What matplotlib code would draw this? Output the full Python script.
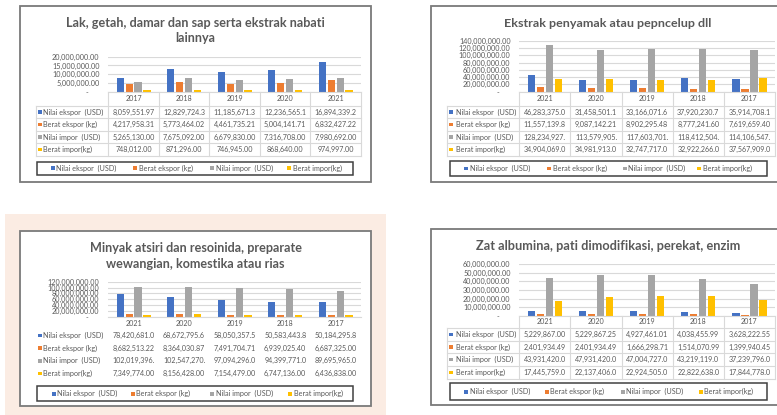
import matplotlib
matplotlib.use('Agg')
import matplotlib.pyplot as plt
from matplotlib.patches import Rectangle
from matplotlib.lines import Line2D
from matplotlib.ticker import FuncFormatter, MultipleLocator

plt.rcParams['font.family'] = ['Lato', 'DejaVu Sans']

W, H = 777, 415

SERIES = ["Nilai ekspor  (USD)", "Berat ekspor (kg)", "Nilai impor  (USD)", "Berat impor(kg)"]
COLORS = ["#4472C4", "#ED7D31", "#A5A5A5", "#FFC000"]

# ---------------- data ----------------
p1_title = ["Lak, getah, damar dan sap serta ekstrak nabati", "lainnya"]
p1_years = ["2017", "2018", "2019", "2020", "2021"]
p1_nilai_ekspor = [8059551.97, 12829724.30, 11185671.30, 12236565.10, 16894339.20]
p1_berat_ekspor = [4217958.31, 5773464.02, 4461735.21, 5004141.71, 6832427.22]
p1_nilai_impor = [5265130.00, 7675092.00, 6679830.00, 7316708.00, 7980692.00]
p1_berat_impor = [748012.00, 871296.00, 746945.00, 868640.00, 974997.00]
p1_ymax, p1_ystep = 20000000, 5000000

p2_title = ["Ekstrak penyamak atau pepncelup dll"]
p2_years = ["2021", "2020", "2019", "2018", "2017"]
p2_nilai_ekspor = [46283375.00, 31458501.10, 33166071.60, 37920230.70, 35914708.10]
p2_berat_ekspor = [11557139.80, 9087142.21, 8902295.48, 8777241.60, 7619659.40]
p2_nilai_impor = [128234927.00, 113579905.00, 117603701.00, 118412504.00, 114106547.00]
p2_berat_impor = [34904069.00, 34981913.00, 32747717.00, 32922266.00, 37567909.00]
p2_ymax, p2_ystep = 140000000, 20000000

p3_title = ["Minyak atsiri dan resoinida, preparate", "wewangian, komestika atau rias"]
p3_years = ["2021", "2020", "2019", "2018", "2017"]
p3_nilai_ekspor = [78420681.00, 68672795.60, 58050357.50, 50583443.80, 50184295.80]
p3_berat_ekspor = [8682513.22, 8364030.87, 7491704.71, 6939025.40, 6687325.00]
p3_nilai_impor = [102019396.00, 102547270.00, 97094296.00, 94399771.00, 89695965.00]
p3_berat_impor = [7349774.00, 8156428.00, 7154479.00, 6747136.00, 6436838.00]
p3_ymax, p3_ystep = 120000000, 20000000

p4_title = ["Zat albumina, pati dimodifikasi, perekat, enzim"]
p4_years = ["2021", "2020", "2019", "2018", "2017"]
p4_nilai_ekspor = [5229867.00, 5229867.25, 4927461.01, 4038455.99, 3628222.55]
p4_berat_ekspor = [2401934.49, 2401934.49, 1666298.71, 1514070.99, 1399940.45]
p4_nilai_impor = [43931420.00, 47931420.00, 47004727.00, 43219119.00, 37239796.00]
p4_berat_impor = [17445759.00, 22137406.00, 22924505.00, 22822638.00, 17844778.00]
p4_ymax, p4_ystep = 60000000, 10000000

# ---------------- helpers ----------------
fig = plt.figure(figsize=(W / 100, H / 100), dpi=100)
fig.patch.set_facecolor('white')
renderer = fig.canvas.get_renderer()
TXT = '#595959'
GRID = '#d9d9d9'


def fx(x):
    return x / W


def fy(y):
    return 1 - y / H


def hline(x0, x1, y, color=GRID, lw=0.8, z=5):
    fig.add_artist(Line2D([fx(x0), fx(x1)], [fy(y), fy(y)], transform=fig.transFigure,
                          color=color, lw=lw, zorder=z))


def vline(x, y0, y1, color=GRID, lw=0.8, z=5):
    fig.add_artist(Line2D([fx(x), fx(x)], [fy(y0), fy(y1)], transform=fig.transFigure,
                          color=color, lw=lw, zorder=z))


def rect(x0, y0, x1, y1, z=1, **kw):
    fig.add_artist(Rectangle((fx(x0), fy(y1)), fx(x1) - fx(x0), fy(y0) - fy(y1),
                             transform=fig.transFigure, zorder=z, **kw))


def measure(s, size, **kw):
    t = fig.text(0, 0, s, fontsize=size, **kw)
    w = t.get_window_extent(renderer).width
    t.remove()
    return w


def fit_size(s, width_px, **kw):
    return 10 * width_px / measure(s, 10, **kw)


def fmt_cell(v):
    return "{:,.2f}".format(v)[:12]


VAL_FS = fit_size("8,059,551.97", 42.5)
LAB_FS = fit_size("Nilai ekspor  (USD)", 60)
TICK_FS = fit_size("20,000,000.00", 46.5)


def tick_fmt(v, pos):
    if abs(v) < 1:
        return "-      "
    return "{:,.2f}".format(v)


def draw_panel(title, title_w, title_ys, title_cx, years, series, ymax, ystep,
               plot_box, table_ys, lab_x0, key_x, lab_tx, grid_table, legend_box, legend_keys):
    px0, py0, px1, py1 = plot_box
    ax = fig.add_axes([fx(px0), fy(py1), (px1 - px0) / W, (py1 - py0) / H])
    ax.set_zorder(3)
    ax.set_facecolor('none')
    n = len(years)
    bw = 0.142
    step = 0.176
    xs = list(range(n))
    for i, (vals, c) in enumerate(zip(series, COLORS)):
        off = (i - 1.5) * step
        ax.bar([x + off for x in xs], vals, width=bw, color=c, zorder=3)
    ax.set_xlim(-0.5, n - 0.5)
    ax.set_ylim(0, ymax)
    ax.yaxis.set_major_locator(MultipleLocator(ystep))
    ax.yaxis.set_major_formatter(FuncFormatter(tick_fmt))
    ax.yaxis.grid(True, color=GRID, lw=0.8)
    ax.set_axisbelow(True)
    ax.set_xticks([])
    for s in ax.spines.values():
        s.set_visible(False)
    ax.tick_params(axis='y', length=0, pad=6.3, labelsize=TICK_FS, labelcolor=TXT)

    # title
    tfs = fit_size(title[0], title_w, fontweight='bold')
    for line, ty in zip(title, title_ys):
        fig.text(fx(title_cx), fy(ty), line, fontsize=tfs, fontweight='bold', color=TXT,
                 ha='center', va='center')

    # data table
    cw = (px1 - px0) / n
    hdr_top = table_ys[0]
    if grid_table:
        hline(px0, px1, hdr_top)
        for y in table_ys[1:]:
            hline(lab_x0, px1, y)
        for i in range(n + 1):
            vline(px0 + i * cw, hdr_top, table_ys[-1])
        vline(lab_x0, table_ys[1], table_ys[-1])
    else:
        hline(px0, px1, py1)
    for i, yr in enumerate(years):
        fig.text(fx(px0 + (i + 0.5) * cw), fy((table_ys[0] + table_ys[1]) / 2), yr,
                 fontsize=VAL_FS, color=TXT, ha='center', va='center')
    for r, (name, vals, c) in enumerate(zip(SERIES, series, COLORS)):
        yc = (table_ys[r + 1] + table_ys[r + 2]) / 2
        rect(key_x, yc - 1.8, key_x + 3.6, yc + 1.8, z=6, facecolor=c, edgecolor='none')
        fig.text(fx(lab_tx), fy(yc), name, fontsize=LAB_FS, color=TXT, ha='left', va='center')
        for i, v in enumerate(vals):
            fig.text(fx(px0 + (i + 0.5) * cw), fy(yc), fmt_cell(v), fontsize=VAL_FS,
                     color=TXT, ha='center', va='center')

    # legend
    lx0, ly0, lx1, ly1 = legend_box
    rect(lx0, ly0, lx1, ly1, z=6, facecolor='none', edgecolor='#404040', lw=1.1)
    lyc = (ly0 + ly1) / 2
    for name, c, kx in zip(SERIES, COLORS, legend_keys):
        rect(kx, lyc - 2, kx + 4, lyc + 2, z=6, facecolor=c, edgecolor='none')
        fig.text(fx(kx + 5.5), fy(lyc), name, fontsize=LAB_FS, color=TXT, ha='left', va='center')


# backgrounds / frames
rect(5, 214, 386, 420, z=0, facecolor='#fbece3', edgecolor='none')
rect(20, 6, 371, 181.7, z=1, facecolor='white', edgecolor='#7a7a7a', lw=1.3)
rect(431, 6, 790, 181.7, z=1, facecolor='white', edgecolor='#7a7a7a', lw=1.3)
rect(20, 231.5, 371, 406, z=1, facecolor='white', edgecolor='#7a7a7a', lw=1.3)
rect(431, 229.3, 790, 405, z=1, facecolor='white', edgecolor='#7a7a7a', lw=1.3)

draw_panel(p1_title, 260, [23, 38.5], 195, p1_years,
           [p1_nilai_ekspor, p1_berat_ekspor, p1_nilai_impor, p1_berat_impor],
           p1_ymax, p1_ystep, (108.3, 56.7, 361, 91.7),
           [91.7, 106, 118.3, 131, 143.3, 155.7], 36, 38.3, 42.7, True,
           (37.3, 161.7, 352.7, 175), [51, 133.3, 210, 287.3])

draw_panel(p2_title, 207, [23.3], 608, p2_years,
           [p2_nilai_ekspor, p2_berat_ekspor, p2_nilai_impor, p2_berat_impor],
           p2_ymax, p2_ystep, (519.3, 40.7, 775, 91.7),
           [91.7, 106, 118.3, 130.7, 143.3, 155.7], 447.3, 449.3, 455.5, True,
           (450, 161, 766.7, 176), [464, 547.3, 622.7, 697.3])

draw_panel(p3_title, 212, [248.3, 264], 195.5, p3_years,
           [p3_nilai_ekspor, p3_berat_ekspor, p3_nilai_impor, p3_berat_impor],
           p3_ymax, p3_ystep, (108.3, 281.7, 361, 316.7),
           [316.7, 329.3, 341.9, 354.5, 367.1, 379.7], 36, 38.3, 42.7, False,
           (37.3, 386, 352.7, 401), [51.7, 130.7, 210, 288.3])

draw_panel(p4_title, 262, [245.7], 608.3, p4_years,
           [p4_nilai_ekspor, p4_berat_ekspor, p4_nilai_impor, p4_berat_impor],
           p4_ymax, p4_ystep, (519.3, 264.3, 775, 315.7),
           [315.7, 328.3, 340.7, 353.3, 366, 379], 447.3, 449.3, 455.5, True,
           (450, 383.3, 766.7, 400), [464, 545, 620.7, 698.7])

fig.savefig('out.png', dpi=100)
